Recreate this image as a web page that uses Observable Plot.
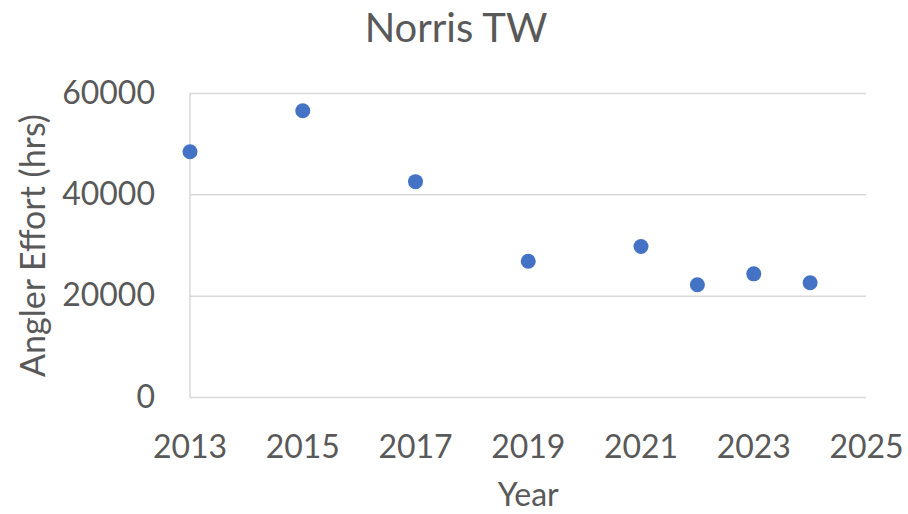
<!DOCTYPE html>
<html>
<head>
<meta charset="utf-8">
<script src="https://cdn.jsdelivr.net/npm/d3@7"></script>
<script src="https://cdn.jsdelivr.net/npm/@observablehq/plot@0.6"></script>
<style>
  html, body { margin: 0; padding: 0; background: #fff; }
  #wrap { width: 908px; height: 514px; position: relative; overflow: hidden; }
  #title { height: 60px; line-height: 54px; text-align: center; font-family: Lato, sans-serif; font-size: 40px; color: #595959; padding-left: 4px; }
</style>
</head>
<body>
<div id="wrap">
  <div id="title">Norris TW</div>
  <div id="chart"></div>
</div>
<script>
const years = [2013, 2015, 2017, 2019, 2021, 2022, 2023, 2024];
const effort = [48500, 56600, 42600, 26900, 29800, 22250, 24400, 22650];
const xTicks = [2013, 2015, 2017, 2019, 2021, 2023, 2025];
const yTicks = [0, 20000, 40000, 60000];
const xTitle = "Year";
const yTitle = "Angler Effort (hrs)";

const data = years.map((y, i) => ({year: y, effort: effort[i]}));
const textColor = "#595959";
const gridColor = "#d9d9d9";

const chart = Plot.plot({
  width: 908,
  height: 454,
  marginTop: 33,
  marginBottom: 117,
  marginLeft: 189.5,
  marginRight: 42,
  style: {fontFamily: "Lato, sans-serif", fontSize: "32px", color: textColor, background: "#fff"},
  x: {domain: [2013, 2025]},
  y: {domain: [0, 60000]},
  marks: [
    Plot.ruleY(yTicks, {x1: 2013, x2: 2025, stroke: gridColor, strokeWidth: 1.5}),
    Plot.ruleX([2013], {y1: 0, y2: 60000, stroke: gridColor, strokeWidth: 1.5}),
    Plot.axisX({ticks: xTicks, tickFormat: d => String(d), tickSize: 0, tickPadding: 38, label: null, fill: textColor}),
    Plot.axisY({ticks: yTicks, tickFormat: d => String(d), tickSize: 0, tickPadding: 35, label: null, fill: textColor}),
    Plot.dot(data, {x: "year", y: "effort", r: 7.5, fill: "#4472C4", stroke: "none"}),
    Plot.text([xTitle], {frameAnchor: "bottom", dy: 108, text: d => d, fill: textColor, fontSize: 32}),
    Plot.text([yTitle], {frameAnchor: "left", textAnchor: "middle", dx: -156, rotate: -90, text: d => d, fill: textColor, fontSize: 34})
  ]
});
document.getElementById("chart").appendChild(chart);
</script>
</body>
</html>
